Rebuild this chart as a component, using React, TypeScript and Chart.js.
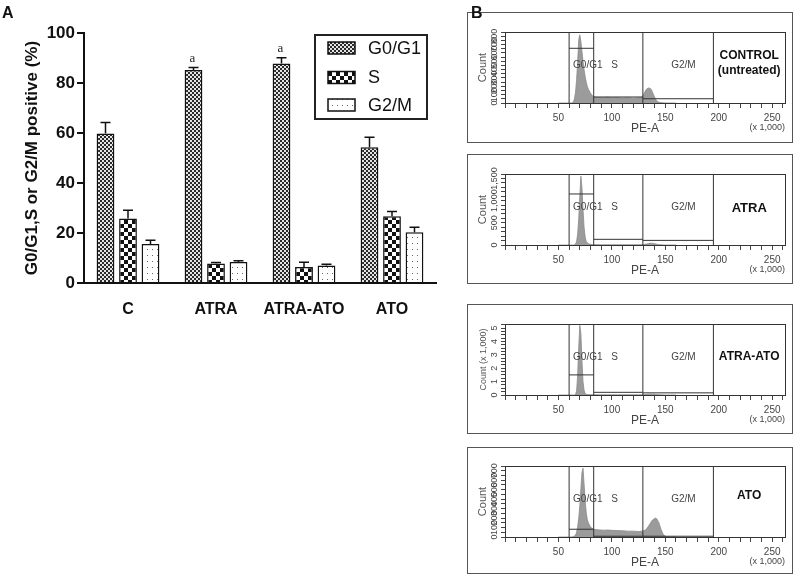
import React, { useEffect, useRef } from 'react';
import { Chart, registerables } from 'chart.js';

Chart.register(...registerables);

const SANS = "'Liberation Sans', Arial, Helvetica, sans-serif";
const SERIF = "'Liberation Serif', 'DejaVu Serif', serif";

// ---------- Panel A data ----------
const CATEGORIES = ['C', 'ATRA', 'ATRA-ATO', 'ATO'];
const SERIES = ['G0/G1', 'S', 'G2/M'];
const G0G1_MEAN = [59.8, 85.2, 87.8, 54.3];
const G0G1_ERR = [4.4, 1.0, 2.3, 4.0];
const S_MEAN = [25.8, 7.8, 6.4, 26.7];
const S_ERR = [3.3, 0.4, 1.9, 1.9];
const G2M_MEAN = [15.6, 8.4, 7.0, 20.3];
const G2M_ERR = [1.5, 0.5, 0.5, 2.0];
const SIGNIF = ['', 'a', 'a', ''];
const Y_TITLE_A = 'G0/G1,S or G2/M positive (%)';

// ---------- Panel B data ----------
const PE_A = [50, 60, 62, 63, 64, 65, 66, 67, 68, 69, 70, 71, 72, 73, 74, 75, 76, 77, 78, 80, 82, 84, 88, 92, 96, 100, 105, 110, 115, 120, 125, 128, 130, 132, 134, 136, 137, 138, 140, 141, 142, 144, 146, 148, 150, 152, 155, 160];
const COUNT_CONTROL = [0, 0, 0, 2, 15, 50, 130, 280, 500, 760, 816, 740, 620, 500, 400, 315, 250, 200, 165, 118, 85, 70, 66, 64, 68, 62, 65, 60, 64, 58, 62, 64, 110, 160, 180, 175, 160, 130, 70, 45, 25, 10, 4, 2, 1, 0, 0, 0];
const COUNT_ATRA = [0, 0, 0, 0, 0, 5, 20, 80, 250, 600, 1100, 1550, 1300, 800, 400, 180, 80, 45, 30, 15, 10, 8, 6, 5, 5, 5, 5, 5, 5, 6, 6, 8, 12, 20, 30, 38, 40, 38, 30, 24, 18, 8, 4, 2, 1, 0, 0, 0];
const COUNT_ATRA_ATO = [0, 0, 0, 0, 0, 0, 0.05, 0.3, 1.5, 3.6, 5.2, 4.6, 2.6, 1.0, 0.35, 0.12, 0.06, 0.04, 0.03, 0.02, 0.02, 0.02, 0.015, 0.015, 0.015, 0.015, 0.015, 0.015, 0.015, 0.015, 0.02, 0.02, 0.03, 0.04, 0.05, 0.06, 0.06, 0.06, 0.05, 0.04, 0.03, 0.02, 0.01, 0.005, 0, 0, 0, 0];
const COUNT_ATO = [0, 0, 0, 2, 5, 10, 22, 50, 110, 200, 330, 510, 680, 727, 560, 380, 260, 185, 150, 105, 88, 80, 75, 72, 74, 70, 68, 66, 62, 62, 58, 62, 66, 80, 110, 145, 165, 180, 195, 200, 192, 150, 80, 28, 8, 2, 0, 0];
const GATE_BOUNDS = [60, 83, 129, 195];
const GATE_NAMES = ['G0/G1', 'S', 'G2/M'];
const GATE_LEVELS_CONTROL = [655, 72, 51];
const GATE_LEVELS_ATRA = [1150, 128, 104];
const GATE_LEVELS_ATRA_ATO = [1.5, 0.2, 0.16];
const GATE_LEVELS_ATO = [82, 8, 8];
const COUNT_MAX = [850, 1600, 5.3, 750];
const COUNT_MINOR_STEP = [50, 100, 0.25, 50];
const COUNT_LABELS_CONTROL = [0, 100, 200, 300, 400, 500, 600, 700, 800];
const COUNT_LABELS_ATRA = [0, 500, 1000, 1500];
const COUNT_LABELS_ATRA_ATO = [0, 1, 2, 3, 4, 5];
const COUNT_LABELS_ATO = [0, 100, 200, 300, 400, 500, 600, 700];
const PE_A_LABELS = [50, 100, 150, 200, 250];
const CONDITIONS = [['CONTROL', '(untreated)'], ['ATRA'], ['ATRA-ATO'], ['ATO']];
const COUNT_TITLES = ['Count', 'Count', 'Count (x 1,000)', 'Count'];

// ---------- styling / layout ----------
const GATE_LABEL_AT = [77.5, 102.5, 167];
const COND_FONT = [12, 13, 12, 12];
const COND_Y = [[24, 39], [34], [33], [30]];
const HIST_BOXES = [
  { top: 12, bt: 0, bh: 130 },
  { top: 154, bt: 0, bh: 129 },
  { top: 304, bt: 0, bh: 129 },
  { top: 446, bt: 1, bh: 126 },
];

function makePattern(kind: string): CanvasPattern | string {
  const c = document.createElement('canvas');
  if (kind === 'fine') {
    c.width = 4; c.height = 4;
    const g = c.getContext('2d')!;
    g.fillStyle = '#e4e4e4'; g.fillRect(0, 0, 4, 4);
    g.fillStyle = '#2a2a2a'; g.fillRect(0, 0, 2, 2); g.fillRect(2, 2, 2, 2);
    return g.createPattern(c, 'repeat')!;
  }
  if (kind === 'check') {
    c.width = 8; c.height = 8;
    const g = c.getContext('2d')!;
    g.fillStyle = '#ffffff'; g.fillRect(0, 0, 8, 8);
    g.fillStyle = '#111111'; g.fillRect(0, 0, 4, 4); g.fillRect(4, 4, 4, 4);
    return g.createPattern(c, 'repeat')!;
  }
  c.width = 5; c.height = 6;
  const g = c.getContext('2d')!;
  g.fillStyle = '#ffffff'; g.fillRect(0, 0, 5, 6);
  g.fillStyle = '#666666'; g.fillRect(2, 3, 1, 1);
  return g.createPattern(c, 'repeat')!;
}

function BarPanel() {
  const ref = useRef<HTMLCanvasElement | null>(null);
  useEffect(() => {
    const pats = [makePattern('fine'), makePattern('check'), makePattern('dots')];
    const means = [G0G1_MEAN, S_MEAN, G2M_MEAN];
    const errs = [G0G1_ERR, S_ERR, G2M_ERR];
    const plugin = {
      id: 'panelA',
      afterDatasetsDraw(chart: any) {
        const { ctx } = chart;
        const y = chart.scales.y;
        ctx.save();
        ctx.strokeStyle = '#111';
        ctx.lineWidth = 1.5;
        chart.data.datasets.forEach((ds: any, di: number) => {
          chart.getDatasetMeta(di).data.forEach((bar: any, i: number) => {
            const v = ds.data[i];
            const e = errs[di][i];
            const x = bar.x;
            const y0 = y.getPixelForValue(v);
            const y1 = y.getPixelForValue(v + e);
            ctx.beginPath();
            ctx.moveTo(x, y0); ctx.lineTo(x, y1);
            ctx.moveTo(x - 5, y1); ctx.lineTo(x + 5, y1);
            ctx.stroke();
            if (di === 0 && SIGNIF[i]) {
              ctx.fillStyle = '#222';
              ctx.font = `13px ${SERIF}`;
              ctx.textAlign = 'center';
              ctx.textBaseline = 'middle';
              ctx.fillText(SIGNIF[i], x - 1, y1 - 9);
            }
          });
        });
        // legend
        ctx.lineWidth = 2;
        ctx.strokeStyle = '#222';
        ctx.strokeRect(315, 35, 112, 84);
        [48, 77.5, 105].forEach((cy, k) => {
          ctx.fillStyle = pats[k];
          ctx.fillRect(328, cy - 6, 27, 12);
          ctx.lineWidth = 1.5;
          ctx.strokeStyle = '#111';
          ctx.strokeRect(328, cy - 6, 27, 12);
          ctx.fillStyle = '#111';
          ctx.font = `18px ${SANS}`;
          ctx.textAlign = 'left';
          ctx.textBaseline = 'middle';
          ctx.fillText(SERIES[k], 368, cy + 1);
        });
        ctx.restore();
      },
    };
    const chart = new Chart(ref.current!, {
      type: 'bar',
      data: {
        labels: CATEGORIES,
        datasets: SERIES.map((name, k) => ({
          label: name,
          data: means[k],
          backgroundColor: pats[k] as any,
          borderColor: '#111',
          borderWidth: 1.5,
          barPercentage: 0.79,
          categoryPercentage: 0.767,
        })),
      },
      options: {
        responsive: false,
        animation: false,
        devicePixelRatio: 1,
        layout: { padding: { left: 0, right: 29, top: 33, bottom: 0 } },
        plugins: { legend: { display: false }, tooltip: { enabled: false } },
        scales: {
          x: {
            z: 1,
            grid: { display: false },
            border: { display: true, color: '#111', width: 2 },
            ticks: { font: { family: SANS, size: 16, weight: 'bold' }, color: '#111', padding: 9, maxRotation: 0 },
            afterFit: (s: any) => { s.height = 47; },
          },
          y: {
            min: 0,
            max: 100,
            ticks: { stepSize: 20, font: { family: SANS, size: 17, weight: 'bold' }, color: '#111', padding: 2 },
            grid: { drawOnChartArea: false, color: '#111', lineWidth: 2, tickLength: 7 },
            border: { color: '#111', width: 2 },
            title: {
              display: true,
              text: Y_TITLE_A,
              font: { family: SANS, size: 17, weight: 'bold' },
              color: '#111',
              padding: { top: 22, bottom: 0 },
            },
            afterFit: (s: any) => { s.width = 84; },
          },
        },
      } as any,
      plugins: [plugin],
    });
    return () => chart.destroy();
  }, []);
  return <canvas ref={ref} width={465} height={330} style={{ position: 'absolute', left: 0, top: 0, width: 465, height: 330 }} />;
}

function HistPanel({ idx, top, bt, bh }: { idx: number; top: number; bt: number; bh: number }) {
  const ref = useRef<HTMLCanvasElement | null>(null);
  useEffect(() => {
    const counts = [COUNT_CONTROL, COUNT_ATRA, COUNT_ATRA_ATO, COUNT_ATO][idx];
    const levels = [GATE_LEVELS_CONTROL, GATE_LEVELS_ATRA, GATE_LEVELS_ATRA_ATO, GATE_LEVELS_ATO][idx];
    const yLabels = [COUNT_LABELS_CONTROL, COUNT_LABELS_ATRA, COUNT_LABELS_ATRA_ATO, COUNT_LABELS_ATO][idx];
    const yMax = COUNT_MAX[idx];
    const titleSize = idx === 2 ? 9 : 11;
    const gateStyle = { borderColor: '#333', borderWidth: 1, pointRadius: 0, fill: false, order: 0 };
    const gateSets: any[] = GATE_BOUNDS.map((g) => ({ ...gateStyle, data: [{ x: g, y: 0 }, { x: g, y: yMax }] }));
    levels.forEach((lv, k) => {
      gateSets.push({ ...gateStyle, data: [{ x: GATE_BOUNDS[k], y: lv }, { x: GATE_BOUNDS[k + 1], y: lv }] });
    });
    const plugin = {
      id: 'histDecor',
      beforeDraw(chart: any) {
        const { ctx } = chart;
        ctx.save();
        ctx.strokeStyle = '#555';
        ctx.lineWidth = 1;
        ctx.strokeRect(0.5, bt + 0.5, 325, bh);
        ctx.restore();
      },
      afterDraw(chart: any) {
        const { ctx, chartArea: a } = chart;
        const x = chart.scales.x;
        const y = chart.scales.y;
        ctx.save();
        ctx.strokeStyle = '#333';
        ctx.lineWidth = 1;
        ctx.strokeRect(a.left + 0.5, a.top + 0.5, a.right - a.left, a.bottom - a.top);
        ctx.fillStyle = '#444';
        ctx.font = `10px ${SANS}`;
        ctx.textAlign = 'center';
        ctx.textBaseline = 'middle';
        const gy = a.top + (a.bottom - a.top) * 0.465;
        GATE_NAMES.forEach((n, k) => ctx.fillText(n, x.getPixelForValue(GATE_LABEL_AT[k]), gy));
        // condition label
        ctx.fillStyle = '#111';
        ctx.font = `bold ${COND_FONT[idx]}px ${SANS}`;
        const cx = (x.getPixelForValue(GATE_BOUNDS[3]) + a.right) / 2;
        CONDITIONS[idx].forEach((t, k) => ctx.fillText(t, cx, a.top + COND_Y[idx][k]));
        // y labels rotated
        ctx.fillStyle = '#444';
        ctx.font = `9px ${SANS}`;
        yLabels.forEach((v) => {
          const py = y.getPixelForValue(v);
          ctx.save();
          ctx.translate(a.left - 10, py);
          ctx.rotate(-Math.PI / 2);
          ctx.fillText(v.toLocaleString('en-US'), 0, 0);
          ctx.restore();
        });
        ctx.textAlign = 'right';
        ctx.font = `9px ${SANS}`;
        ctx.fillText('(x 1,000)', a.right, a.bottom + 24.5);
        ctx.restore();
      },
    };
    const chart = new Chart(ref.current!, {
      type: 'line',
      data: {
        datasets: [
          ...gateSets,
          {
            data: PE_A.map((v, i) => ({ x: v, y: counts[i] })),
            fill: 'origin',
            backgroundColor: '#9b9b9b',
            borderColor: '#8a8a8a',
            borderWidth: 0.8,
            pointRadius: 0,
            tension: 0,
            order: 1,
          },
        ],
      },
      options: {
        responsive: false,
        animation: false,
        devicePixelRatio: 1,
        layout: { padding: { left: 0, right: 8, top: 20, bottom: 0 } },
        plugins: { legend: { display: false }, tooltip: { enabled: false } },
        scales: {
          x: {
            type: 'linear',
            min: 0,
            max: 262,
            ticks: {
              stepSize: 10,
              includeBounds: false,
              autoSkip: false,
              maxRotation: 0,
              font: { family: SANS, size: 10 },
              color: '#444',
              padding: 4,
              callback: (v: any) => (PE_A_LABELS.includes(v) ? String(v) : ''),
            },
            grid: { drawOnChartArea: false, tickLength: 5, color: '#444' },
            border: { color: '#333' },
            title: { display: true, text: 'PE-A', color: '#444', font: { family: SANS, size: 12 }, padding: { top: 0, bottom: 7.5 } },
            afterFit: (s: any) => { s.height = 40; },
          },
          y: {
            min: 0,
            max: yMax,
            ticks: { display: false, stepSize: COUNT_MINOR_STEP[idx], includeBounds: false },
            grid: { drawOnChartArea: false, tickLength: 4, color: '#444' },
            border: { color: '#333' },
            title: {
              display: true,
              text: COUNT_TITLES[idx],
              color: '#555',
              font: { family: SANS, size: titleSize },
              padding: { top: 16.3 - titleSize * 0.6, bottom: 0 },
            },
            afterFit: (s: any) => { s.width = 38; },
          },
        },
      } as any,
      plugins: [plugin],
    });
    return () => chart.destroy();
  }, [idx, bt, bh]);
  return <canvas ref={ref} width={326} height={131} style={{ position: 'absolute', left: 467, top, width: 326, height: 131 }} />;
}

export default function App() {
  const labelStyle: React.CSSProperties = {
    position: 'absolute',
    top: 5,
    font: `bold 16px ${SANS}`,
    lineHeight: '16px',
    color: '#111',
  };
  return (
    <div style={{ position: 'absolute', left: 0, top: 0, width: 800, height: 582, background: '#fff', overflow: 'hidden' }}>
      <BarPanel />
      {HIST_BOXES.map((b, i) => (
        <HistPanel key={i} idx={i} top={b.top} bt={b.bt} bh={b.bh} />
      ))}
      <div style={{ ...labelStyle, left: 2 }}>A</div>
      <div style={{ ...labelStyle, left: 471 }}>B</div>
    </div>
  );
}
